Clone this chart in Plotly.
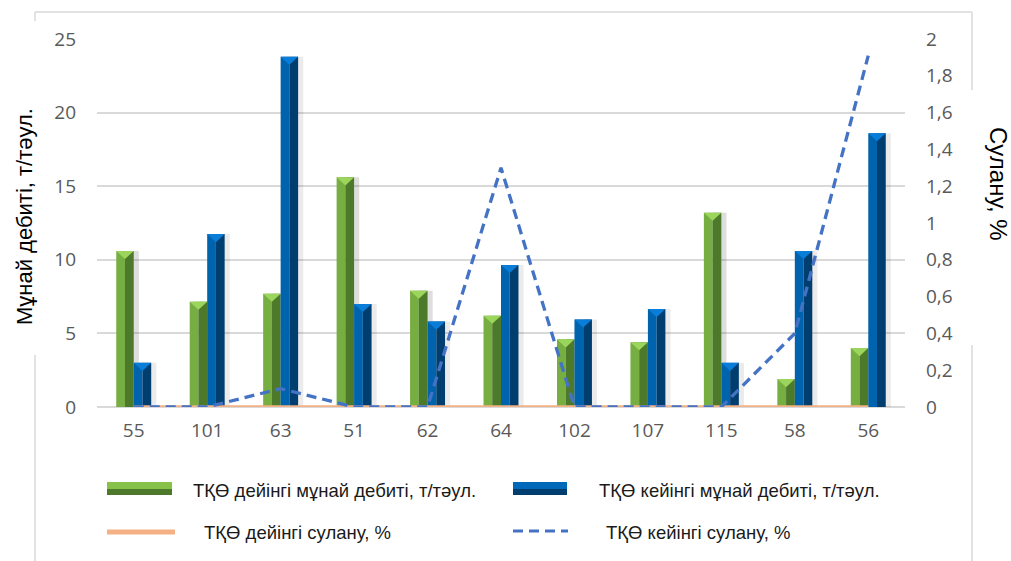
import plotly.graph_objects as go

# Well numbers
wells = ["55", "101", "63", "51", "62", "64", "102", "107", "115", "58", "56"]

# Oil rate before / after treatment, t/day
rate_before = [10.6, 7.15, 7.7, 15.6, 7.9, 6.2, 4.6, 4.4, 13.2, 1.9, 4.0]
rate_after = [3.0, 11.75, 23.8, 7.0, 5.8, 9.65, 5.95, 6.65, 3.0, 10.6, 18.6]

# Water cut before / after treatment, %
cut_before = [0, 0, 0, 0, 0, 0, 0, 0, 0, 0, 0]
cut_after = [0, 0, 0.1, 0, 0, 1.3, 0, 0, 0, 0.4, 1.91]

# Axis ticks
left_ticks = [0, 5, 10, 15, 20, 25]
right_ticks = [0, 0.2, 0.4, 0.6, 0.8, 1.0, 1.2, 1.4, 1.6, 1.8, 2.0]
right_tick_text = ["0", "0,2", "0,4", "0,6", "0,8", "1", "1,2", "1,4", "1,6", "1,8", "2"]

name_rb = "ТҚӨ дейінгі мұнай дебиті, т/тәул."
name_ra = "ТҚӨ кейінгі мұнай дебиті, т/тәул."
name_cb = "ТҚӨ дейінгі сулану, %"
name_ca = "ТҚӨ кейінгі сулану, %"

W, H = 1011, 561
L, R, T, B = 97, 905, 39, 407
idx = list(range(len(wells)))

BAR = 0.238          # width of one series bar, in category units
HALF = BAR / 2
CAP = 0.55           # bevel depth in left-axis units

GREEN_LIGHT, GREEN_DARK, GREEN_TOP = "#76ae42", "#4d7a2a", "#9cd55c"
BLUE_LIGHT, BLUE_DARK, BLUE_TOP = "#0063ad", "#003e70", "#0a7dd8"

fig = go.Figure()

# soft shadows on the right side of the bars
for vals, off, alpha in ((rate_before, -BAR, 0.13), (rate_after, 0.0, 0.08)):
    fig.add_trace(go.Bar(x=idx, y=vals, offset=off + 0.04, width=BAR + 0.03,
                         marker=dict(color=f"rgba(0,0,0,{alpha})", line_width=0),
                         showlegend=False, hoverinfo="skip"))

# two-tone bars: lighter left half, darker right half
for vals, off, c1, c2, nm in ((rate_before, -BAR, GREEN_LIGHT, GREEN_DARK, name_rb),
                              (rate_after, 0.0, BLUE_LIGHT, BLUE_DARK, name_ra)):
    fig.add_trace(go.Bar(x=idx, y=vals, offset=off, width=HALF, name=nm,
                         marker=dict(color=c1, line_width=0), showlegend=False))
    fig.add_trace(go.Bar(x=idx, y=vals, offset=off + HALF, width=HALF, name=nm,
                         marker=dict(color=c2, line_width=0), showlegend=False))

# water cut lines on the secondary axis
fig.add_trace(go.Scatter(x=idx, y=cut_before, yaxis="y2", mode="lines", name=name_cb,
                         line=dict(color="#f4b183", width=3.5), showlegend=False))
fig.add_trace(go.Scatter(x=idx, y=cut_after, yaxis="y2", mode="lines", name=name_ca,
                         line=dict(color="#4472c4", width=3.3, dash="10px,6px"),
                         showlegend=False))

shapes = []
# bevelled bar tops
for vals, off, top in ((rate_before, -BAR, GREEN_TOP), (rate_after, 0.0, BLUE_TOP)):
    for i, v in zip(idx, vals):
        x0, x1, xm = i + off, i + off + BAR, i + off + HALF
        shapes.append(dict(type="path", xref="x", yref="y", layer="above",
                           path=f"M{x0},{v} L{x1},{v} L{xm},{v - CAP} Z",
                           fillcolor=top, line_width=0))


def px(x):
    return (x - L) / (R - L)


def py(y):
    return (B - y) / (B - T)


# outer frame, broken where the axis titles sit
frame = "#d9d9d9"
for (x0, y0, x1, y1) in ((35, 12, 972, 12), (35, 12, 35, 21), (35, 355, 35, 561),
                         (972, 12, 972, 90), (972, 345, 972, 561)):
    shapes.append(dict(type="line", xref="paper", yref="paper",
                       x0=px(x0), y0=py(y0), x1=px(x1), y1=py(y1),
                       line=dict(color=frame, width=1.5)))

# legend keys
shapes += [
    dict(type="rect", xref="paper", yref="paper", x0=px(107), x1=px(172), y0=py(489), y1=py(482),
         fillcolor="#86c24a", line_width=0),
    dict(type="rect", xref="paper", yref="paper", x0=px(107), x1=px(172), y0=py(495), y1=py(489),
         fillcolor="#4d7a2a", line_width=0),
    dict(type="rect", xref="paper", yref="paper", x0=px(513), x1=px(567), y0=py(489), y1=py(482),
         fillcolor="#0068b8", line_width=0),
    dict(type="rect", xref="paper", yref="paper", x0=px(513), x1=px(567), y0=py(495), y1=py(489),
         fillcolor="#003e70", line_width=0),
    dict(type="line", xref="paper", yref="paper", x0=px(107), x1=px(175), y0=py(532), y1=py(532),
         line=dict(color="#f4b183", width=5)),
    dict(type="line", xref="paper", yref="paper", x0=px(513), x1=px(568), y0=py(531), y1=py(531),
         line=dict(color="#4472c4", width=3, dash="10px,6px")),
]

legend_font = dict(family="Liberation Sans, Arial, sans-serif", size=18.5, color="#1a1a1a")
annotations = [
    dict(text=name_rb, x=px(191), y=py(490), xanchor="left", yanchor="middle"),
    dict(text=name_ra, x=px(597), y=py(490), xanchor="left", yanchor="middle"),
    dict(text=name_cb, x=px(202), y=py(532), xanchor="left", yanchor="middle"),
    dict(text=name_ca, x=px(604), y=py(532), xanchor="left", yanchor="middle"),
]
for a in annotations:
    a.update(xref="paper", yref="paper", showarrow=False, font=legend_font)

annotations += [
    dict(text="Мұнай дебиті, т/тәул.", x=px(24), y=py(217), textangle=-90,
         xref="paper", yref="paper", showarrow=False,
         font=dict(family="Liberation Sans, Arial, sans-serif", size=22, color="#000000"),
         xanchor="center", yanchor="middle"),
    dict(text="Сулану, %", x=px(999), y=py(184), textangle=90,
         xref="paper", yref="paper", showarrow=False,
         font=dict(family="Liberation Sans, Arial, sans-serif", size=24, color="#000000"),
         xanchor="center", yanchor="middle"),
]

tick_font = dict(family="Open Sans, sans-serif", size=19, color="#595959")
grid = "#d9d9d9"

fig.update_layout(
    width=W, height=H,
    margin=dict(l=L, r=W - R, t=T, b=H - B),
    paper_bgcolor="white", plot_bgcolor="white",
    barmode="overlay",
    showlegend=False,
    xaxis=dict(range=[-0.5, len(wells) - 0.5], tickvals=idx, ticktext=wells,
               tickfont=tick_font, showgrid=False, zeroline=False, showline=False,
               ticks="", ticklabelstandoff=10),
    yaxis=dict(range=[0, 25], tickvals=left_ticks, tickfont=tick_font,
               showgrid=True, gridcolor=grid, gridwidth=1.5,
               zeroline=True, zerolinecolor=grid, zerolinewidth=1.5,
               showline=False, ticks="", ticklabelstandoff=20),
    yaxis2=dict(range=[0, 2], tickvals=right_ticks, ticktext=right_tick_text,
                overlaying="y", side="right", tickfont=tick_font,
                showgrid=False, zeroline=False, showline=False, ticks="",
                ticklabelstandoff=20),
    shapes=shapes,
    annotations=annotations,
)

fig.write_html("out.html")
